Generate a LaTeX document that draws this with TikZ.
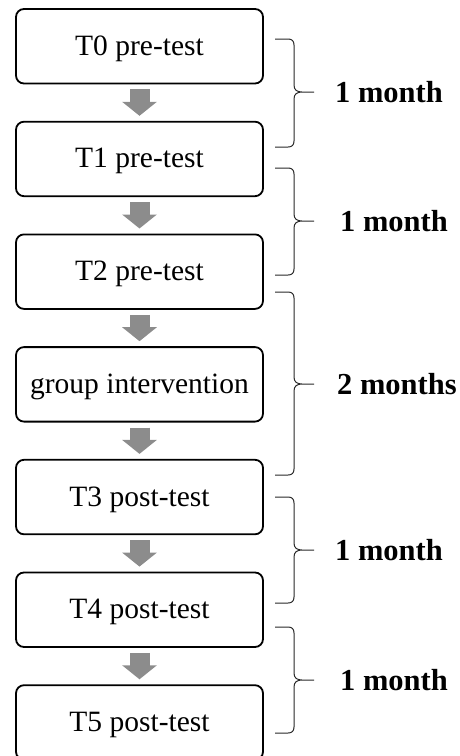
\documentclass[tikz,border=0pt]{standalone}
\usepackage{fontspec}
\setmainfont{Liberation Serif}
\usetikzlibrary{arrows.meta}
\definecolor{arrowgray}{RGB}{140,140,140}
\definecolor{bracegray}{RGB}{40,40,40}
\newcommand{\timebrace}[3]{%
  \draw[bracegraystyle] (275,#1) -- (288,#1)
    .. controls (292,#1) and (294,{#1+2}) .. (294,{#1+6})
    -- (294,{#2-7})
    .. controls (294,{#2-2}) and (297,#2) .. (302,#2) -- (314,#2)
    (302,#2) .. controls (297,#2) and (294,{#2+2}) .. (294,{#2+7})
    -- (294,{#3-6})
    .. controls (294,{#3-2}) and (292,#3) .. (288,#3) -- (275,#3);}
\begin{document}
\begin{tikzpicture}[x=1pt,y=-1pt,
  stage/.style={draw=black, line width=1.8pt, rounded corners=8pt,
    minimum width=247pt, minimum height=74.5pt, inner sep=0pt,
    text height=19pt, text depth=1pt,
    font=\fontsize{29.5}{35}\selectfont},
  flowarrow/.style={draw=arrowgray, line width=20pt,
    -{Triangle[length=14pt,width=34pt]},
    shorten <=5pt, shorten >=5pt},
  bracegraystyle/.style={draw=bracegray, line width=1pt},
  dur/.style={anchor=west, inner sep=0pt,
    font=\fontsize{30.5}{36}\selectfont\bfseries}]
\useasboundingbox (0,0) rectangle (460,756);
\begin{scope}
\clip (0,0) rectangle (460,756);
\node[stage] (t0) at (139.5, 46.25) {T0 pre-test};
\node[stage] (t1) at (139.5, 158.95) {T1 pre-test};
\node[stage] (t2) at (139.5, 271.65) {T2 pre-test};
\node[stage] (gi) at (139.5, 384.35) {group intervention};
\node[stage] (t3) at (139.5, 497.05) {T3 post-test};
\node[stage] (t4) at (139.5, 609.75) {T4 post-test};
\node[stage] (t5) at (139.5, 722.45) {T5 post-test};
\end{scope}
\draw[flowarrow] (t0.south) -- (t1.north);
\draw[flowarrow] (t1.south) -- (t2.north);
\draw[flowarrow] (t2.south) -- (gi.north);
\draw[flowarrow] (gi.south) -- (t3.north);
\draw[flowarrow] (t3.south) -- (t4.north);
\draw[flowarrow] (t4.south) -- (t5.north);
\timebrace{39}{92}{147}
\timebrace{168}{221}{275}
\timebrace{292}{384}{475}
\timebrace{497}{550}{603}
\timebrace{627}{680}{733}
\node[dur] (d1) at (335,92) {1 month};
\node[dur] (d2) at (340,221) {1 month};
\node[dur] (d3) at (337,384) {2 months};
\node[dur] (d4) at (335,550) {1 month};
\node[dur] (d5) at (340,680) {1 month};
\end{tikzpicture}
\end{document}
